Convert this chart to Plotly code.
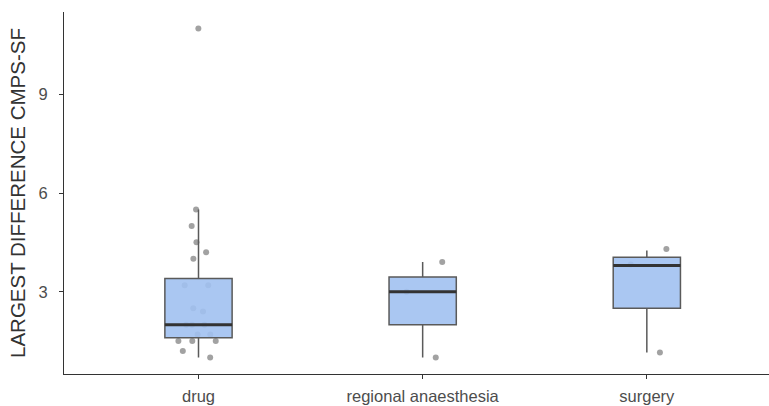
import plotly.graph_objects as go

# ---- data ----
categories = ["drug", "regional anaesthesia", "surgery"]
q1 = [1.6, 2.0, 2.5]
median = [2.0, 3.0, 3.8]
q3 = [3.4, 3.45, 4.05]
lower_whisker = [1.0, 1.0, 1.15]
upper_whisker = [5.5, 3.9, 4.25]

drug_points = [11.0, 5.5, 5.0, 4.5, 4.2, 4.0, 3.2, 3.2, 2.5, 2.4, 2.0, 2.0, 2.0,
               1.7, 1.7, 1.5, 1.5, 1.5, 1.2, 1.0]
regional_points = [1.0, 3.0, 3.9]
surgery_points = [1.15, 3.83, 4.3]
point_sets = {"drug": drug_points,
              "regional anaesthesia": regional_points,
              "surgery": surgery_points}

y_ticks = [3, 6, 9]
y_title = "LARGEST DIFFERENCE CMPS-SF"

# ---- figure ----
FONT = "Liberation Sans, Arial, Helvetica, sans-serif"
fig = go.Figure()

# jittered points (drawn first, box drawn over them)
for cat, vals in point_sets.items():
    fig.add_trace(go.Box(
        x=[cat] * len(vals), y=vals,
        boxpoints="all", jitter=0.75, pointpos=0, width=0.3,
        fillcolor="rgba(0,0,0,0)",
        line=dict(width=0, color="rgba(0,0,0,0)"),
        marker=dict(size=6, color="rgba(85,85,85,0.55)", line=dict(width=0)),
        showlegend=False, hoverinfo="y",
    ))

# boxes from summary statistics
fig.add_trace(go.Box(
    x=categories, q1=q1, median=median, q3=q3,
    lowerfence=lower_whisker, upperfence=upper_whisker,
    width=0.3, boxpoints=False,
    fillcolor="rgba(161,193,241,0.9)",
    line=dict(color="#5a5a5a", width=1.5),
    whiskerwidth=0, showlegend=False,
))

# thicker median line
fig.add_trace(go.Box(
    x=categories, q1=median, median=median, q3=median,
    lowerfence=median, upperfence=median,
    width=0.3, boxpoints=False,
    fillcolor="rgba(0,0,0,0)",
    line=dict(color="#333333", width=3),
    whiskerwidth=0, showlegend=False, hoverinfo="skip",
))

fig.update_layout(
    width=769, height=406,
    margin=dict(l=64, r=0, t=12, b=32),
    paper_bgcolor="white", plot_bgcolor="white",
    boxmode="overlay",
    showlegend=False,
    font=dict(family=FONT, size=16.5, color="#4d4d4d"),
)

fig.update_xaxes(
    type="category", categoryorder="array", categoryarray=categories,
    range=[-0.6, 2.545],
    showline=True, linecolor="#333333", linewidth=1.2,
    ticks="outside", ticklen=4, tickcolor="#333333", tickwidth=1.2,
    ticklabelstandoff=3,
    showgrid=False, zeroline=False,
    tickfont=dict(size=16.5, color="#4d4d4d"),
)
fig.update_yaxes(
    range=[0.5, 11.5],
    tickvals=y_ticks, ticktext=[str(t) for t in y_ticks],
    showline=True, linecolor="#333333", linewidth=1.2,
    ticks="outside", ticklen=4, tickcolor="#333333", tickwidth=1.2,
    ticklabelstandoff=8,
    showgrid=False, zeroline=False,
    tickfont=dict(size=16.5, color="#4d4d4d"),
    title=dict(text=y_title, standoff=7, font=dict(size=20.5, color="#333333")),
)

fig.write_html("out.html")
